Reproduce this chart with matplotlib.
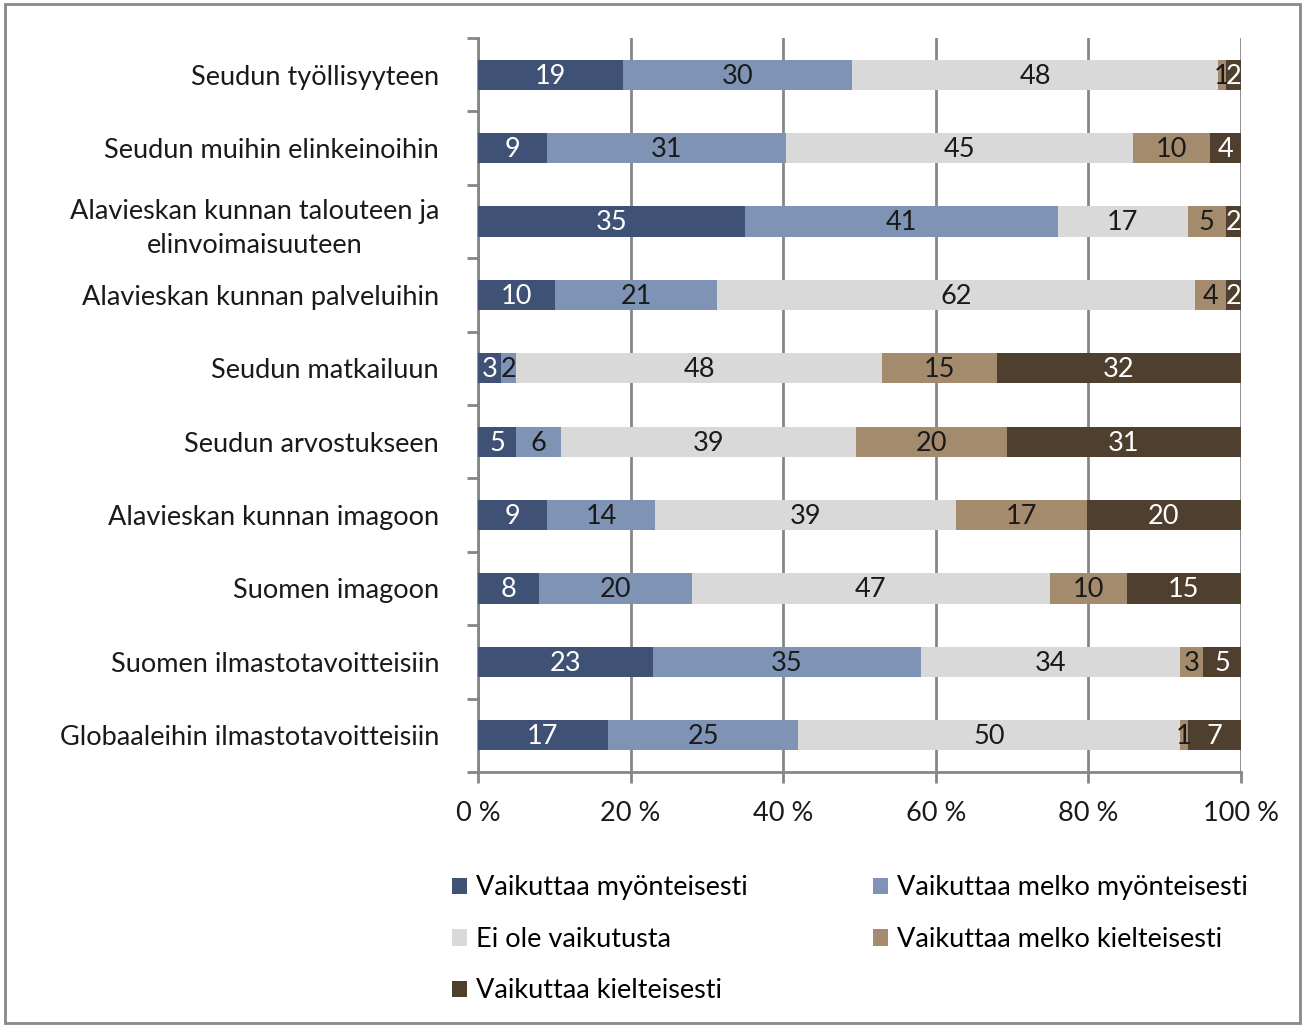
import matplotlib
matplotlib.use("Agg")
import matplotlib.pyplot as plt
from matplotlib.patches import Rectangle
import numpy as np

# kategoriat ylhäältä alas
categories = [
    "Seudun työllisyyteen",
    "Seudun muihin elinkeinoihin",
    "Alavieskan kunnan talouteen ja\nelinvoimaisuuteen",
    "Alavieskan kunnan palveluihin",
    "Seudun matkailuun",
    "Seudun arvostukseen",
    "Alavieskan kunnan imagoon",
    "Suomen imagoon",
    "Suomen ilmastotavoitteisiin",
    "Globaaleihin ilmastotavoitteisiin",
]

series_names = [
    "Vaikuttaa myönteisesti",
    "Vaikuttaa melko myönteisesti",
    "Ei ole vaikutusta",
    "Vaikuttaa melko kielteisesti",
    "Vaikuttaa kielteisesti",
]

myonteisesti = [19, 9, 35, 10, 3, 5, 9, 8, 23, 17]
melko_myonteisesti = [30, 31, 41, 21, 2, 6, 14, 20, 35, 25]
ei_vaikutusta = [48, 45, 17, 62, 48, 39, 39, 47, 34, 50]
melko_kielteisesti = [1, 10, 5, 4, 15, 20, 17, 10, 3, 1]
kielteisesti = [2, 4, 2, 2, 32, 31, 20, 15, 5, 7]

colors = ["#3F5175", "#7F93B5", "#D9D9D9", "#A58B6E", "#4F3F2E"]
label_colors = ["white", "#1a1a1a", "#1a1a1a", "#1a1a1a", "white"]

plt.rcParams["font.family"] = ["Lato", "DejaVu Sans"]
FS = 19.5

data = np.array([myonteisesti, melko_myonteisesti, ei_vaikutusta,
                 melko_kielteisesti, kielteisesti], dtype=float)
shares = data / data.sum(axis=0) * 100

fig = plt.figure(figsize=(13.07, 10.26), dpi=100)
ax = fig.add_axes([0.3657, 0.2476, 0.9495 - 0.3657, 0.963 - 0.2476])

y = np.arange(len(categories))
left = np.zeros(len(categories))
handles = []
for i, name in enumerate(series_names):
    h = ax.barh(y, shares[i], left=left, height=0.41, color=colors[i],
                label=name, zorder=3)
    handles.append(h)
    for j in range(len(categories)):
        ax.text(left[j] + shares[i][j] / 2, y[j] + 0.02, f"{int(data[i][j])}",
                ha="center", va="center", fontsize=FS,
                color=label_colors[i], zorder=4)
    left += shares[i]

ax.set_xlim(0, 100)
ax.set_ylim(len(categories) - 0.5, -0.5)
ax.set_xticks([0, 20, 40, 60, 80, 100])
ax.set_xticklabels(["0 %", "20 %", "40 %", "60 %", "80 %", "100 %"], fontsize=FS)
ax.set_yticks(y)
ax.set_yticklabels(categories, fontsize=FS, multialignment="center",
                   linespacing=1.45)
ax.tick_params(axis="y", length=0, pad=28, labelcolor="#1a1a1a")
ax.set_yticks(np.arange(-0.5, len(categories), 1), minor=True)
ax.tick_params(axis="y", which="minor", length=8, width=2, color="#868686")
ax.tick_params(axis="x", length=8, width=2, color="#868686", pad=13,
               labelcolor="#1a1a1a")
ax.grid(axis="x", color="#868686", linewidth=2, zorder=0)
for s in ["top", "right"]:
    ax.spines[s].set_visible(False)
for s in ["left", "bottom"]:
    ax.spines[s].set_color("#868686")
    ax.spines[s].set_linewidth(2)

# legenda rivi kerrallaan kuten alkuperäisessä
order = [0, 2, 4, 1, 3]
fig.legend([handles[k] for k in order], [series_names[k] for k in order],
           loc="upper left", bbox_to_anchor=(0.3355, 0.16), ncol=2,
           frameon=False, fontsize=FS, handlelength=0.55, handleheight=0.55,
           handletextpad=0.35, columnspacing=4.6, labelspacing=0.98,
           borderpad=0)

fig.patches.append(Rectangle((0.004, 0.003), 0.991, 0.993, transform=fig.transFigure,
                             fill=False, edgecolor="#888888", linewidth=2))

fig.savefig("out.png", dpi=100)
